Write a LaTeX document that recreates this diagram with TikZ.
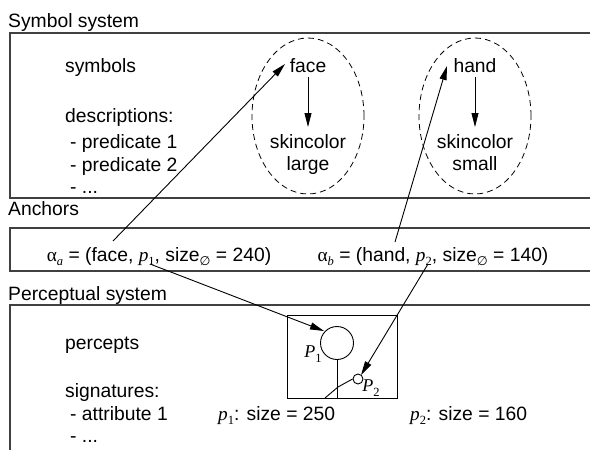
\documentclass[tikz,border=0pt]{standalone}
\usepackage{fontspec}
\setmainfont{Liberation Sans}
\newfontfamily\tms{Liberation Serif}
\newfontfamily\djv{DejaVu Sans}
\usetikzlibrary{arrows.meta,shapes.geometric}
\newcommand\subtx[1]{\raisebox{-0.25em}{\fontsize{12.5}{13}\selectfont #1}}
\newcommand\ip[2]{{\tms\itshape #1}\subtx{\tms #2}}
\newcommand\alf[1]{{\tms α}\subtx{\tms\itshape #1}}
\newcommand\dia{\subtx{\djv ∅}}
\begin{document}
\begin{tikzpicture}[x=1pt,y=-1pt,
  txt/.style={inner sep=0pt,font=\fontsize{19.3}{23}\selectfont},
  lt/.style={txt,anchor=base west},
  ct/.style={txt,anchor=base},
  frame/.style={draw=black!75,line width=1.2pt},
  arr/.style={draw=black,line width=0.9pt,-{Triangle[length=14pt,width=7pt]}},
  dashell/.style={ellipse,draw,line width=0.8pt,dash pattern=on 6pt off 4pt,minimum width=112pt,minimum height=156pt,inner sep=0pt},
  thin/.style={draw=black,line width=0.9pt}]
\useasboundingbox (0,0) rectangle (590,450);
\fill[white] (0,0) rectangle (590,450);
% Symbol system
\node[lt] (lblsym) at (8,27) {Symbol system};
\draw[frame] (600,33) -- (10,33) -- (10,198) -- (600,198);
\node[lt] (symbols) at (65,72) {symbols};
\node[lt] (desc) at (65,122) {descriptions:};
\node[lt] (pred1) at (70,148) {- predicate 1};
\node[lt] (pred2) at (70,171) {- predicate 2};
\node[lt] (dots1) at (70,193) {- ...};
\node[dashell] (ellface) at (308,116) {};
\node[dashell] (ellhand) at (475,116) {};
\node[ct] (face) at (308,72) {face};
\node[ct] (skin1) at (308,148) {skincolor};
\node[ct] (large) at (308,170) {large};
\node[ct] (hand) at (475,72) {hand};
\node[ct] (skin2) at (475,148) {skincolor};
\node[ct] (small) at (475,170) {small};
\coordinate (fa1) at (308,77); \coordinate (fa2) at (308,127);
\coordinate (ha1) at (475,77); \coordinate (ha2) at (475,127);
\draw[arr] (fa1) -- (fa2);
\draw[arr] (ha1) -- (ha2);
% Anchors
\node[lt] (lblanc) at (8,215) {Anchors};
\draw[frame] (600,228) -- (10,228) -- (10,271) -- (600,271);
\node[ct] (anca) at (159,261) {\alf{a} = (face, \ip{p}{1}, size\dia{} = 240)};
\node[ct] (ancb) at (433,261) {\alf{b} = (hand, \ip{p}{2}, size\dia{} = 140)};
% Perceptual system
\node[lt] (lblper) at (8,300) {Perceptual system};
\draw[frame] (600,305) -- (10,305) -- (10,460);
\node[lt] (percepts) at (65,349) {percepts};
\node[lt] (sig) at (65,397) {signatures:};
\node[lt] (attr) at (70,420) {- attribute 1};
\node[lt] (dots2) at (70,442) {- ...};
\node[lt] (p1size) at (218,420) {\ip{p}{1}: size = 250};
\node[lt] (p2size) at (410,420) {\ip{p}{2}: size = 160};
% image of person
\node[draw,thin,minimum width=110pt,minimum height=83pt,inner sep=0pt] (rect) at (342,356.5) {};
\node[circle,draw,thin,minimum size=33pt,inner sep=0pt] (P1c) at (337,343) {};
\node[circle,draw,thin,minimum size=10pt,inner sep=0pt] (P2c) at (358,379) {};
\coordinate (stemb) at (337,398);
\coordinate (armk) at (338,387);
\coordinate (armb) at (325,398);
\draw[thin] (P1c.south) -- (stemb);
\draw[thin] (P2c.west) -- (armk) -- (armb);
\node[txt,font=\fontsize{18}{18}\selectfont\tms\itshape] (P1lbl) at (313,354) {P\subtx{\upshape 1}};
\node[txt,font=\fontsize{18}{18}\selectfont\tms\itshape] (P2lbl) at (371,388) {P\subtx{\upshape 2}};
% connectors
\coordinate (s1) at (113,241); \coordinate (t1) at (285,64);
\coordinate (s2) at (395,242); \coordinate (t2) at (447,66);
\coordinate (s3) at (150,264); \coordinate (t3) at (324,331);
\coordinate (s4) at (428,264); \coordinate (t4) at (361,375);
\draw[arr] (s1) -- (t1);
\draw[arr] (s2) -- (t2);
\draw[arr] (s3) -- (t3);
\draw[arr] (s4) -- (t4);
\end{tikzpicture}
\end{document}
